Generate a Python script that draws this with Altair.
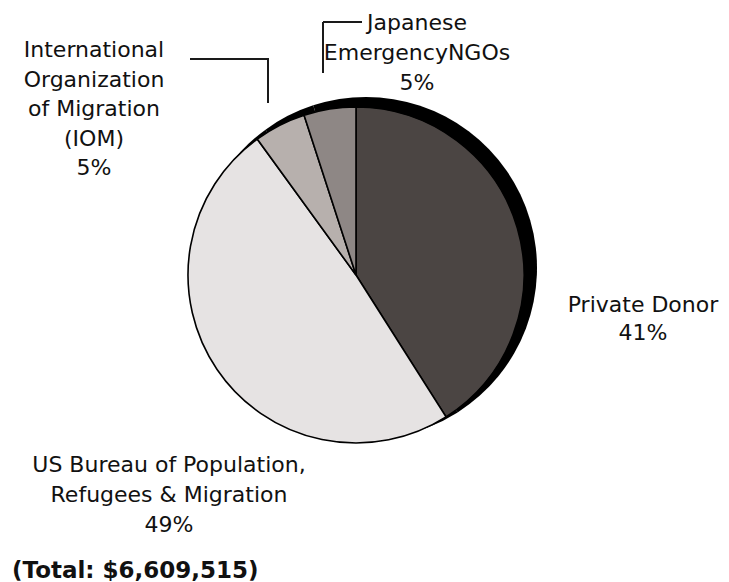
import altair as alt
import pandas as pd

categories = [
    "Private Donor",
    "US Bureau of Population, Refugees & Migration",
    "International Organization of Migration (IOM)",
    "Japanese Emergency NGOs",
]
shares = [41, 49, 5, 5]
label_text = [
    "Private Donor",
    "US Bureau of Population,|Refugees & Migration",
    "International|Organization|of Migration|(IOM)",
    "Japanese|EmergencyNGOs",
]
total_text = "(Total: $6,609,515)"
slice_colors = ["#4b4543", "#e6e3e3", "#b7b0ad", "#8e8785"]

df = pd.DataFrame({
    "category": categories,
    "share": shares,
    "label": label_text,
    "order": list(range(len(categories))),
})

CX, CY, R = 348, 267, 168

shadow = alt.Chart(df).mark_arc(radius=R + 3, color="black").encode(
    theta=alt.Theta("share:Q", stack=True),
    order=alt.Order("order:Q"),
    x=alt.value(CX + 10),
    y=alt.value(CY - 7),
)

pie = alt.Chart(df).mark_arc(radius=R, stroke="black", strokeWidth=1.6).encode(
    theta=alt.Theta("share:Q", stack=True),
    order=alt.Order("order:Q"),
    color=alt.Color("category:N", scale=alt.Scale(domain=categories, range=slice_colors), legend=None),
    x=alt.value(CX),
    y=alt.value(CY),
)

one = pd.DataFrame({"k": [0]})


def rule(x1, y1, x2, y2):
    return alt.Chart(one).mark_rule(color="#1a1a1a", strokeWidth=2).encode(
        x=alt.value(x1), y=alt.value(y1), x2=alt.value(x2), y2=alt.value(y2)
    )


rules = [
    rule(182, 51, 261, 51),
    rule(260, 51, 260, 95),
    rule(315, 14, 354, 14),
    rule(315, 14, 315, 65),
]


def label(cat, x, y, lh, dx=0):
    return (
        alt.Chart(df)
        .transform_filter(alt.datum.category == cat)
        .transform_calculate(lines="split(datum.label + '|' + datum.share + '%', '|')")
        .mark_text(font="DejaVu Sans", fontSize=22, align="center", baseline="alphabetic",
                   lineHeight=lh, color="#111111")
        .encode(text="lines:N", x=alt.value(x), y=alt.value(y))
    )


labels = [
    label(categories[0], 635, 304, 28),
    label(categories[1], 161, 464, 30),
    label(categories[2], 86, 49, 29.5),
    label(categories[3], 409, 22, 30),
]

total = alt.Chart(one).mark_text(
    font="DejaVu Sans", fontSize=23, fontWeight="bold", align="left", baseline="alphabetic", color="#111111"
).encode(text=alt.value(total_text), x=alt.value(4), y=alt.value(570))

chart = alt.layer(shadow, pie, *rules, *labels, total).properties(
    width=713, height=574, padding=0, autosize="none"
).configure_view(stroke=None)

chart.save("out.html", embed_options={"renderer": "svg", "actions": False})
